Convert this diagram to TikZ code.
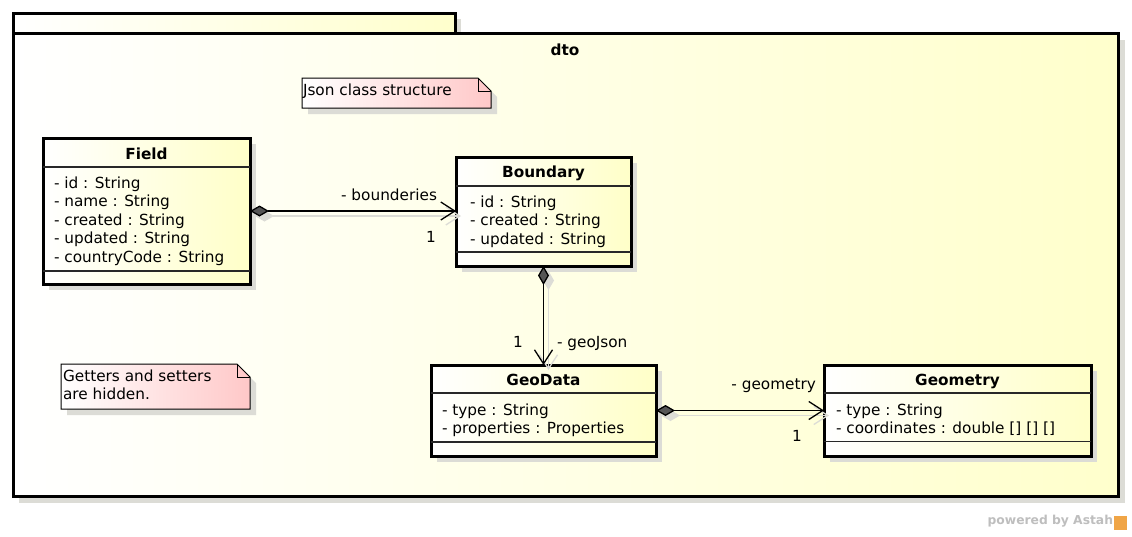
\documentclass[tikz,border=0pt]{standalone}
\usepackage{fontspec}
\setmainfont{DejaVu Sans}
\usetikzlibrary{calc}
\usetikzlibrary{arrows.meta}
\usetikzlibrary{shadows}
\definecolor{pkgyellow}{RGB}{255,255,204}
\definecolor{clsyellow}{RGB}{255,255,200}
\definecolor{notepink}{RGB}{255,200,200}
\definecolor{shadowgray}{RGB}{220,220,214}
\definecolor{headgray}{RGB}{40,40,40}
\definecolor{diamgray}{RGB}{85,85,85}
\definecolor{logogray}{RGB}{190,190,190}
\definecolor{logoorange}{RGB}{240,165,70}

\begin{document}
\begin{tikzpicture}[x=1pt,y=-1pt,
  every node/.style={inner sep=0pt, outer sep=0pt},
  txt/.style={font=\fontsize{15.3}{18.5}\selectfont},
  ttl/.style={font=\fontsize{15.3}{18.5}\selectfont\bfseries},
  classbox/.style={draw, line width=3pt, left color=white, right color=clsyellow, anchor=north west,
    drop shadow={shadow xshift=6pt, shadow yshift=-6pt, fill=shadowgray, opacity=1}},
  sepline/.style={draw=headgray, line width=1.2pt},
  notebox/.style={draw=black, line width=1pt, left color=white, right color=notepink},
  link/.style={line width=1.3pt, {Diamond[length=19pt,width=11pt,fill=diamgray]}-{Straight Barb[length=14pt,width=18pt]}},
  linkshadow/.style={draw=shadowgray, line width=1.3pt, {Diamond[length=19pt,width=11pt,fill=shadowgray]}-{Straight Barb[length=14pt,width=18pt]}}
]
\useasboundingbox (0,0) rectangle (1132,536);
\fill[white] (0,0) rectangle (1132,536);

% package dto
\fill[shadowgray] (19,19) rectangle (461,40);
\fill[shadowgray] (19,40) rectangle (1125,503);
\draw[line width=3pt, left color=white, right color=pkgyellow] (13,13.5) rectangle (455,33.5);
\draw[line width=3pt, left color=white, right color=pkgyellow] (13,33.5) rectangle (1118,496);
\node[ttl, anchor=base] (dto-name) at (565,55) {dto};

% notes
\fill[shadowgray] (308,84) -- (484,84) -- (497,97) -- (497,114) -- (308,114) -- cycle;
\path[notebox] (302,78) -- (478,78) -- (491,91) -- (491,108) -- (302,108) -- cycle;
\draw[line width=1pt] (478,78) -- (478,91) -- (491,91);
\node[txt, anchor=base west] (json-note) at (303,95) {Json class structure};

\fill[shadowgray] (67,370) -- (243,370) -- (256,383) -- (256,415) -- (67,415) -- cycle;
\path[notebox] (61,364) -- (237,364) -- (250,377) -- (250,409) -- (61,409) -- cycle;
\draw[line width=1pt] (237,364) -- (237,377) -- (250,377);
\node[txt, anchor=base west] (getters-note) at (63,381) {Getters and setters};
\node[txt, anchor=base west] (hidden-note) at (63,399) {are hidden.};

% classes
\node[classbox, minimum width=207pt, minimum height=146pt] (field) at (43,138) {};
\node[ttl, anchor=base] (field-name) at ($(field.north)+(0,21)$) {Field};
\draw[sepline] ($(field.north west)+(0,29)$) -- ($(field.north east)+(0,29)$);
\draw[sepline] ($(field.north west)+(0,133)$) -- ($(field.north east)+(0,133)$);
\foreach \t [count=\i from 0] in {- id : String, - name : String, - created : String, - updated : String, - countryCode : String}
  \node[txt, anchor=base west] (field-a\i) at ($(field.north west)+(11,50+18.5*\i)$) {\t};

\node[classbox, minimum width=175pt, minimum height=109pt] (boundary) at (456,157) {};
\node[ttl, anchor=base] (boundary-name) at ($(boundary.north)+(0,20)$) {Boundary};
\draw[sepline] ($(boundary.north west)+(0,29)$) -- ($(boundary.north east)+(0,29)$);
\draw[sepline] ($(boundary.north west)+(0,95)$) -- ($(boundary.north east)+(0,95)$);
\foreach \t [count=\i from 0] in {- id : String, - created : String, - updated : String}
  \node[txt, anchor=base west] (boundary-a\i) at ($(boundary.north west)+(14,50+18.5*\i)$) {\t};

\node[classbox, minimum width=225pt, minimum height=91pt] (geodata) at (431,365) {};
\node[ttl, anchor=base] (geodata-name) at ($(geodata.north)+(0,20)$) {GeoData};
\draw[sepline] ($(geodata.north west)+(0,28)$) -- ($(geodata.north east)+(0,28)$);
\draw[sepline] ($(geodata.north west)+(0,77)$) -- ($(geodata.north east)+(0,77)$);
\foreach \t [count=\i from 0] in {- type : String, - properties : Properties}
  \node[txt, anchor=base west] (geodata-a\i) at ($(geodata.north west)+(11,50.5+18*\i)$) {\t};

\node[classbox, minimum width=267pt, minimum height=91pt] (geometry) at (824,365) {};
\node[ttl, anchor=base] (geometry-name) at ($(geometry.north)+(0,20)$) {Geometry};
\draw[sepline] ($(geometry.north west)+(0,28)$) -- ($(geometry.north east)+(0,28)$);
\draw[sepline] ($(geometry.north west)+(0,76.5)$) -- ($(geometry.north east)+(0,76.5)$);
\foreach \t [count=\i from 0] in {- type : String, - coordinates : double [] [] []}
  \node[txt, anchor=base west] (geometry-a\i) at ($(geometry.north west)+(12,50+18*\i)$) {\t};

% compositions
\draw[linkshadow] ($(field.east)+(5,5)$) -- ($(field.east -| boundary.west)+(5,5)$);
\draw[linkshadow] ($(boundary.south)+(5,5)$) -- ($(boundary.south |- geodata.north)+(5,5)$);
\draw[linkshadow] ($(geodata.east)+(5,5)$) -- ($(geodata.east -| geometry.west)+(5,5)$);
\draw[link] (field.east) -- (field.east -| boundary.west);
\draw[link] (boundary.south) -- (boundary.south |- geodata.north);
\draw[link] (geodata.east) -- (geodata.east -| geometry.west);

\node[txt, anchor=base east] (bounderies-role) at (437,200) {- bounderies};
\node[txt, anchor=base] (bounderies-mult) at (431,242) {1};
\node[txt, anchor=base west] (geojson-role) at (557,347) {- geoJson};
\node[txt, anchor=base] (geojson-mult) at (518,347) {1};
\node[txt, anchor=base east] (geometry-role) at (816,389) {- geometry};
\node[txt, anchor=base] (geometry-mult) at (797,441) {1};

% logo
\node[font=\fontsize{12.3}{14}\selectfont\bfseries, text=logogray, anchor=base east] (astah-mark) at (1113,524) {powered by Astah};
\fill[logoorange] (1114,516) rectangle (1127,530);
\end{tikzpicture}
\end{document}
